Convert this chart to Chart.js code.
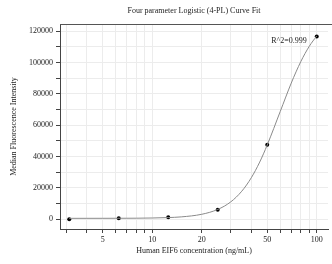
<!DOCTYPE html>
<html>
<head>
<meta charset="utf-8">
<script src="https://cdn.jsdelivr.net/npm/chart.js@4"></script>
<style>
  html, body { margin: 0; padding: 0; background: #fff; overflow: hidden; }
  #wrap { width: 332px; height: 264px; }
</style>
</head>
<body>
<div id="wrap"><canvas id="curveChart" width="332" height="264"></canvas></div>
<script>
// measured standards (ng/mL vs MFI)
const concentrations = [3.125, 6.25, 12.5, 25, 50, 100];
const mfiValues = [0, 700, 1350, 6100, 47500, 116700];

// fitted curve
const fitX = [3.125, 4, 5, 6, 7, 8, 10, 12.5, 15, 20, 25, 30, 35, 40, 45, 50, 60, 70, 80, 90, 100];
const fitY = [600, 610, 620, 640, 660, 690, 820, 1090, 1530, 3200, 6280, 11100, 17900, 26500, 36500, 47400, 68800, 86900, 100600, 110300, 117000];

const xTicks = [3, 4, 5, 6, 7, 8, 9, 10, 20, 30, 40, 50, 60, 70, 80, 90, 100];
const xLabels = [5, 10, 20, 50, 100];
const yLabels = [0, 20000, 40000, 60000, 80000, 100000, 120000];

const chartTitle = 'Four parameter Logistic (4-PL) Curve Fit';
const rSquared = 'R^2=0.999';

const serif = "'Liberation Serif', 'DejaVu Serif', serif";

// title, top frame line and R^2 note
const extrasPlugin = {
  id: 'extras',
  afterDraw(chart) {
    const ctx = chart.ctx;
    const area = chart.chartArea;
    ctx.save();
    ctx.strokeStyle = '#555';
    ctx.lineWidth = 1;
    ctx.beginPath();
    ctx.moveTo(area.left, area.top + 0.5);
    ctx.lineTo(chart.width, area.top + 0.5);
    ctx.stroke();

    ctx.fillStyle = '#222';
    ctx.font = '8px ' + serif;
    ctx.textAlign = 'center';
    ctx.textBaseline = 'middle';
    ctx.fillText(chartTitle, (area.left + area.right) / 2, 11);

    const last = concentrations.length - 1;
    const px = chart.scales.x.getPixelForValue(concentrations[last]);
    const py = chart.scales.y.getPixelForValue(mfiValues[last]);
    ctx.textAlign = 'right';
    ctx.fillText(rSquared, px - 10, py + 5);
    ctx.restore();
  }
};

new Chart(document.getElementById('curveChart'), {
  type: 'scatter',
  data: {
    datasets: [{
      type: 'line',
      data: fitX.map((x, i) => ({ x: x, y: fitY[i] })),
      borderColor: '#8a8a8a',
      borderWidth: 1,
      pointRadius: 0,
      cubicInterpolationMode: 'monotone',
      fill: false
    }, {
      data: concentrations.map((x, i) => ({ x: x, y: mfiValues[i] })),
      backgroundColor: '#000',
      borderWidth: 0,
      pointRadius: 2
    }]
  },
  options: {
    responsive: false,
    animation: false,
    layout: { padding: { top: 24, right: 0, bottom: 0, left: 0 } },
    plugins: {
      legend: { display: false },
      tooltip: { enabled: false }
    },
    scales: {
      x: {
        type: 'logarithmic',
        min: 2.746,
        max: 117.1,
        afterFit(scale) { scale.height = 35; },
        afterBuildTicks(scale) { scale.ticks = xTicks.map(v => ({ value: v })); },
        ticks: {
          autoSkip: false,
          maxRotation: 0,
          color: '#222',
          font: { family: serif, size: 8 },
          padding: 2,
          callback: v => xLabels.includes(v) ? String(v) : ''
        },
        grid: { color: '#ececec', tickColor: '#444', tickLength: 4 },
        border: { color: '#444' },
        title: {
          display: true,
          text: 'Human EIF6 concentration (ng/mL)',
          color: '#222',
          font: { family: serif, size: 8 },
          padding: { top: 4, bottom: 8 }
        }
      },
      y: {
        min: -6200,
        max: 124600,
        afterFit(scale) { scale.width = 60; },
        afterBuildTicks(scale) {
          const t = [];
          for (let v = 0; v <= 120000; v += 10000) t.push({ value: v });
          scale.ticks = t;
        },
        ticks: {
          color: '#222',
          font: { family: serif, size: 8 },
          padding: 3,
          callback: v => yLabels.includes(v) ? String(v) : ''
        },
        grid: { color: '#ececec', tickColor: '#444', tickLength: 4 },
        border: { color: '#444' },
        title: {
          display: true,
          text: 'Median Fluorescence Intensity',
          color: '#222',
          font: { family: serif, size: 8 },
          padding: { top: 9, bottom: 4 }
        }
      }
    }
  },
  plugins: [extrasPlugin]
});
</script>
</body>
</html>
